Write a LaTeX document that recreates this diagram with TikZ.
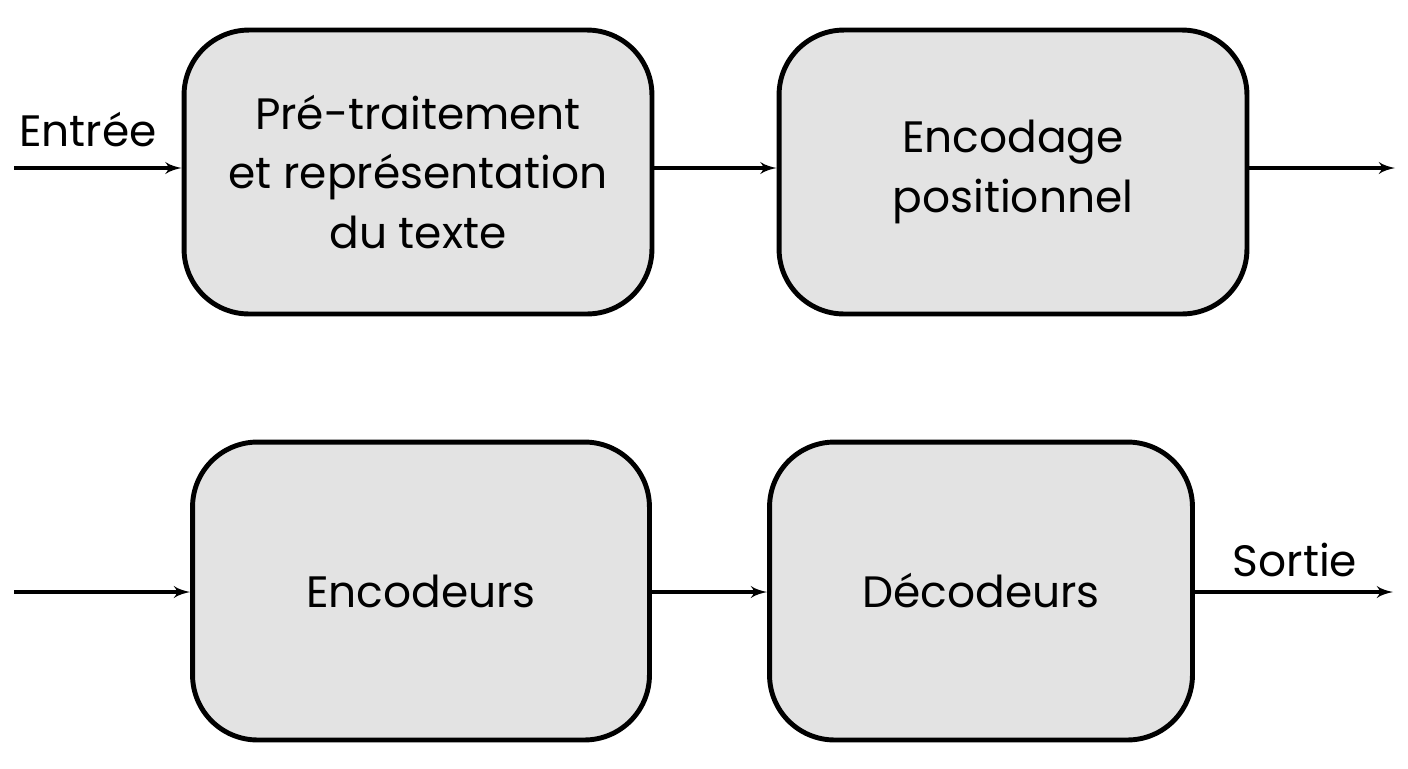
\documentclass[tikz,border=0pt]{standalone}
\usepackage{fontspec}
\setmainfont{Poppins}
\usetikzlibrary{calc, arrows}
\definecolor{boxgray}{HTML}{E3E3E3}
\tikzstyle{blk}=[draw, line width=2.8pt, fill=boxgray, rounded corners=1.3cm, align=center, font=\fontsize{25}{34}\selectfont]
\tikzstyle{lbl}=[font=\fontsize{25}{34}\selectfont]
\begin{document}
\begin{tikzpicture}[x=0.02cm,y=-0.02cm,>=latex']
      \useasboundingbox (0,0) rectangle (1408,768);

      \node [blk, minimum width=9.36cm, minimum height=5.68cm] (pre) at (418,172) {Pré-traitement\\et représentation\\du texte};
      \node [blk, minimum width=9.36cm, minimum height=5.68cm] (pos) at (1013,172) {Encodage\\positionnel};
      \node [blk, minimum width=9.14cm, minimum height=5.96cm] (enc) at (421,591) {Encodeurs};
      \node [blk, minimum width=8.46cm, minimum height=5.96cm] (dec) at (981,591) {Décodeurs};

      \coordinate (in) at (14,168);
      \coordinate (out1) at (1395,168);
      \coordinate (in2) at (14,592);
      \coordinate (out) at (1393,592);

      \node [lbl] (lin) at (88,130) {Entrée};
      \node [lbl] (lout) at (1295,560) {Sortie};

      \path[->, line width=2.2pt] (in) edge (in -| pre.west);
      \path[->, line width=2.2pt] (pre.east |- in) edge (pos.west |- in);
      \path[->, line width=2.2pt] (pos.east |- in) edge (out1);
      \path[->, line width=2.2pt] (in2) edge (in2 -| enc.west);
      \path[->, line width=2.2pt] (enc.east |- in2) edge (dec.west |- in2);
      \path[->, line width=2.2pt] (dec.east |- in2) edge (out);
\end{tikzpicture}
\end{document}
